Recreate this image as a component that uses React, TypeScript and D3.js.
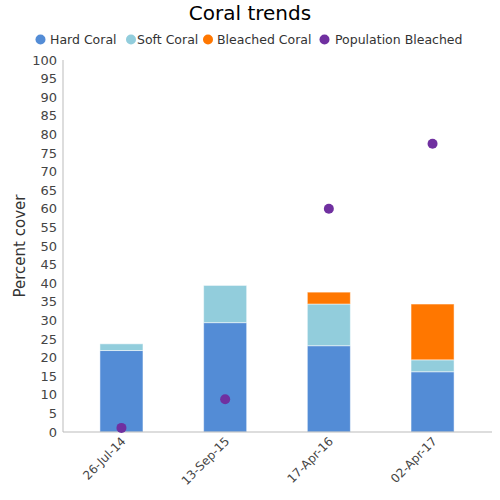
import React from "react";
import * as d3 from "d3";

const categories = ["26-Jul-14", "13-Sep-15", "17-Apr-16", "02-Apr-17"];
const hardCoral = [21.9, 29.4, 23.2, 16.2];
const softCoral = [1.8, 10.0, 11.2, 3.2];
const bleachedCoral = [0, 0, 3.2, 15.0];
const populationBleached = [1.1, 8.8, 60.0, 77.5];
const yTicks = d3.range(0, 101, 5);

const seriesNames = ["Hard Coral", "Soft Coral", "Bleached Coral", "Population Bleached"];
const seriesColors = ["#538cd6", "#92cddc", "#ff7700", "#7030a0"];

export default function App() {
  const W = 500, H = 500;
  const x0 = 63, x1 = 492, yTop = 60, yBot = 432;
  const x = d3.scaleBand<string>().domain(categories).range([69.6, 484.4]).paddingInner(0.585).paddingOuter(0.2925);
  const y = d3.scaleLinear().domain([0, 100]).range([yBot, yTop]);
  const stackData = categories.map((c, i) => ({ cat: c, hard: hardCoral[i], soft: softCoral[i], bleached: bleachedCoral[i] }));
  const stack = d3.stack<any>().keys(["hard", "soft", "bleached"])(stackData);
  const font = "'DejaVu Sans', sans-serif";
  const legendX = [40.5, 131, 208, 324.5];
  const legendTextX = [50, 137, 217, 335];
  return (
    <svg width={W} height={H} style={{ position: "absolute", left: 0, top: 0, background: "#fff" }} fontFamily={font}>
      <text x={250} y={20} textAnchor="middle" fontSize={20} fill="#000">Coral trends</text>
      {seriesNames.map((n, i) => (
        <g key={n}>
          <circle cx={legendX[i]} cy={39.5} r={5} fill={seriesColors[i]} />
          <text x={legendTextX[i]} y={44} fontSize={12.5} fill="#333">{n}</text>
        </g>
      ))}
      <text transform={`translate(25,${(yTop + yBot) / 2}) rotate(-90)`} textAnchor="middle" fontSize={15} fill="#333">Percent cover</text>
      {yTicks.map(t => (
        <text key={t} x={57} y={y(t) + 4.5} textAnchor="end" fontSize={13} fill="#444">{t}</text>
      ))}
      <line x1={x0} x2={x0} y1={yTop} y2={yBot} stroke="#bbb" />
      {stack.map((s, si) => s.map((d, i) => (
        d[1] - d[0] > 0 ? (
          <rect key={`${si}-${i}`} x={x(categories[i])!} width={x.bandwidth()} y={y(d[1])} height={y(d[0]) - y(d[1])}
            fill={seriesColors[si]} stroke="rgba(255,255,255,0.5)" strokeWidth={1} />
        ) : null
      )))}
      <line x1={x0} x2={x1} y1={yBot} y2={yBot} stroke="#bbb" />
      {populationBleached.map((v, i) => (
        <circle key={i} cx={x(categories[i])! + x.bandwidth() / 2} cy={y(v)} r={5} fill={seriesColors[3]} />
      ))}
      {categories.map(c => (
        <text key={c} transform={`translate(${x(c)! + x.bandwidth() / 2 + 5},${yBot + 10}) rotate(-45)`} textAnchor="end" fontSize={12} fill="#444">{c}</text>
      ))}
    </svg>
  );
}
